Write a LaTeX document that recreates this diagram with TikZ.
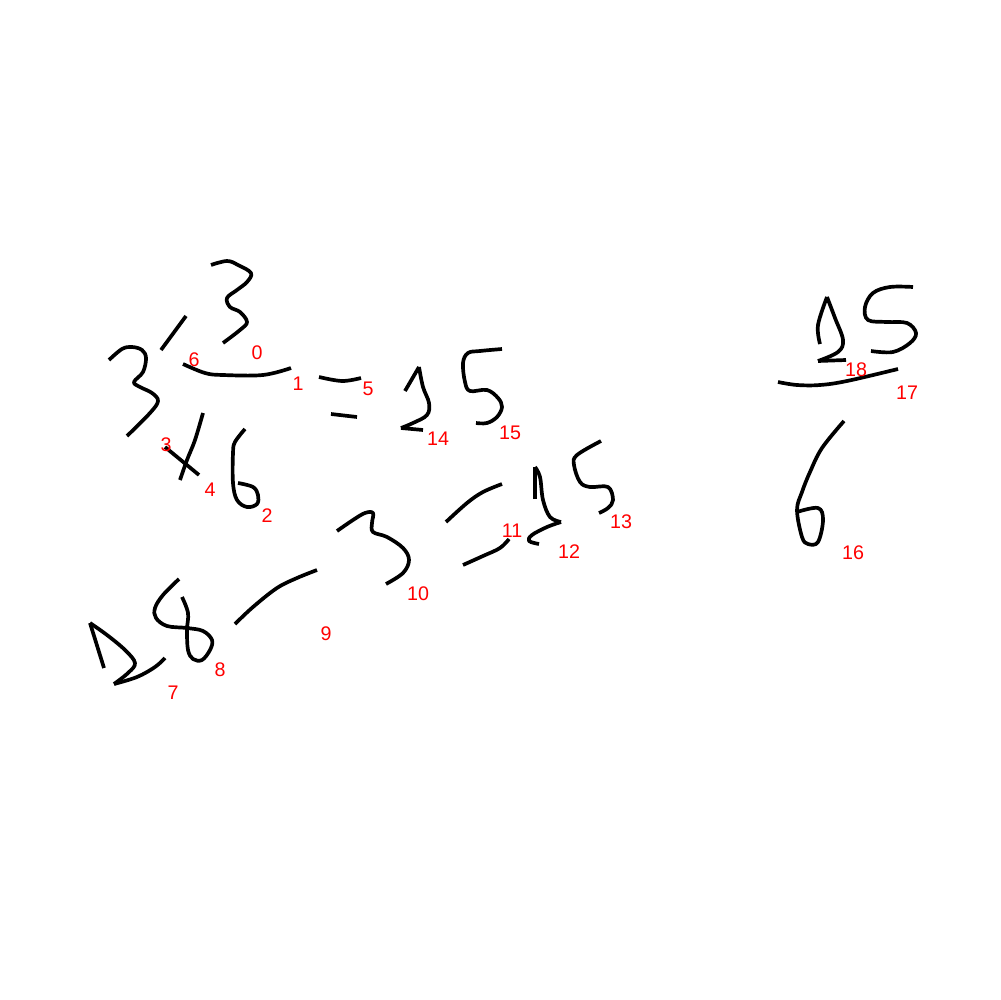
\documentclass[tikz,border=0pt]{standalone}
\usepackage{fontspec}
\setmainfont{Liberation Sans}

\begin{document}
\begin{tikzpicture}[
		x=0.02cm,
		y=-0.02cm,
		pen/.style={black, line width=2.1pt, line cap=butt, line join=round},
		pen smooth/.style={pen, smooth, tension=0.6},
		idx label/.style={text=red, font=\fontsize{11.2}{13}\selectfont, inner sep=0pt}
	]
	\useasboundingbox (0,0) rectangle (1000,1000);

	% first line: 3/(3 x 6) = 25
	\draw[pen] plot[pen smooth] coordinates {(211,265) (227,261) (238,265) (251,273) (247,282) (237,290) (227,298) (230,307) (240,312) (247,322) (240,330) (223,343)};
	\draw[pen] (186,316) -- (161,350);
	\draw[pen] plot[pen smooth] coordinates {(109,360) (122,349) (132,347) (142,350) (146,358) (143,372) (134,382) (140,387) (152,393) (158,401) (150,413) (127,436)};
	\draw[pen] plot[pen smooth] coordinates {(183,364) (205,373) (223,375) (263,375) (291,368)};
	\draw[pen] plot[pen smooth] coordinates {(319,377) (342,381) (361,378)};
	\draw[pen] (331,414) -- (357,417);
	\draw[pen] (165,447) -- (199,475);
	\draw[pen] plot[pen smooth] coordinates {(203,413) (195,440) (187,460) (180,480)};
	\draw[pen] plot[pen smooth] coordinates {(245,429) (235,442) (233,453) (233,483) (237,500) (247,507) (257,504) (258,495) (253,487) (238,483)};

	% the 25 after the equals sign
	\draw[pen] (405,391) -- (419,367);
	\draw[pen] plot[pen smooth] coordinates {(419,367) (423,387) (429,403) (427,415) (413,423) (401,428)};
	\draw[pen] (401,428) -- (423,430);
	\draw[pen] plot[pen smooth] coordinates {(502,349) (480,351) (468,353) (463,363) (465,382) (470,391) (487,390) (498,398) (502,407) (497,417) (487,423) (476,423)};

	% second line: 28 / 3 = 25
	\draw[pen] (104,668) -- (90,623);
	\draw[pen] plot[pen smooth] coordinates {(90,623) (107,635) (125,650) (135,663) (128,673) (114,684)};
	\draw[pen] plot[pen smooth] coordinates {(114,684) (137,677) (155,667) (165,658)};
	\draw[pen] plot[pen smooth] coordinates {(179,579) (163,595) (155,608) (156,618) (167,626) (187,628) (203,631) (212,640) (210,650) (202,660) (193,659) (188,650) (187,630) (188,613) (182,597)};
	\draw[pen] plot[pen smooth] coordinates {(235,624) (253,607) (277,588) (297,578) (317,570)};
	\draw[pen] plot[pen smooth] coordinates {(337,531) (353,520) (365,513) (373,513) (372,523) (373,532) (387,537) (403,548) (409,560) (403,573) (386,584)};
	\draw[pen] plot[pen smooth] coordinates {(446,522) (467,503) (483,492) (502,484)};
	\draw[pen] plot[pen smooth] coordinates {(463,565) (483,556) (500,548) (509,539)};
	\draw[pen] (535,499) -- (535,467);
	\draw[pen] plot[pen smooth] coordinates {(535,467) (540,477) (543,500) (550,517) (561,522)};
	\draw[pen] plot[pen smooth] coordinates {(561,522) (547,527) (532,535) (529,541) (539,544)};
	\draw[pen] plot[pen smooth] coordinates {(601,441) (577,455) (574,465) (580,482) (590,487) (608,487) (613,500) (608,508) (599,513)};

	% fraction on the right: 25/6
	\draw[pen] plot[pen smooth] coordinates {(820,344) (818,325) (827,297)};
	\draw[pen] plot[pen smooth] coordinates {(827,297) (835,318) (843,340) (838,352) (818,361)};
	\draw[pen] (818,361) -- (846,360);
	\draw[pen] plot[pen smooth] coordinates {(913,287) (890,287) (873,293) (865,307) (868,320) (887,322) (907,323) (916,333) (910,343) (893,352) (871,351)};
	\draw[pen] plot[pen smooth] coordinates {(778,382) (797,385) (820,385) (847,381) (898,369)};
	\draw[pen] plot[pen smooth] coordinates {(844,421) (822,448) (810,472) (802,492) (797,510) (802,537) (808,544) (818,542) (823,520) (818,508) (797,512)};

	% stroke numbers
	\node[idx label] (n0) at (257,353) {0};
	\node[idx label] (n1) at (298,384) {1};
	\node[idx label] (n2) at (267,516) {2};
	\node[idx label] (n3) at (166,445) {3};
	\node[idx label] (n4) at (210,490) {4};
	\node[idx label] (n5) at (368,389) {5};
	\node[idx label] (n6) at (194,360) {6};
	\node[idx label] (n7) at (173,693) {7};
	\node[idx label] (n8) at (220,670) {8};
	\node[idx label] (n9) at (326,634) {9};
	\node[idx label] (n10) at (418,594) {10};
	\node[idx label] (n11) at (512,531) {11};
	\node[idx label] (n12) at (569,552) {12};
	\node[idx label] (n13) at (621,522) {13};
	\node[idx label] (n14) at (438,439) {14};
	\node[idx label] (n15) at (510,433) {15};
	\node[idx label] (n16) at (853,553) {16};
	\node[idx label] (n17) at (907,393) {17};
	\node[idx label] (n18) at (856,370) {18};
\end{tikzpicture}
\end{document}
